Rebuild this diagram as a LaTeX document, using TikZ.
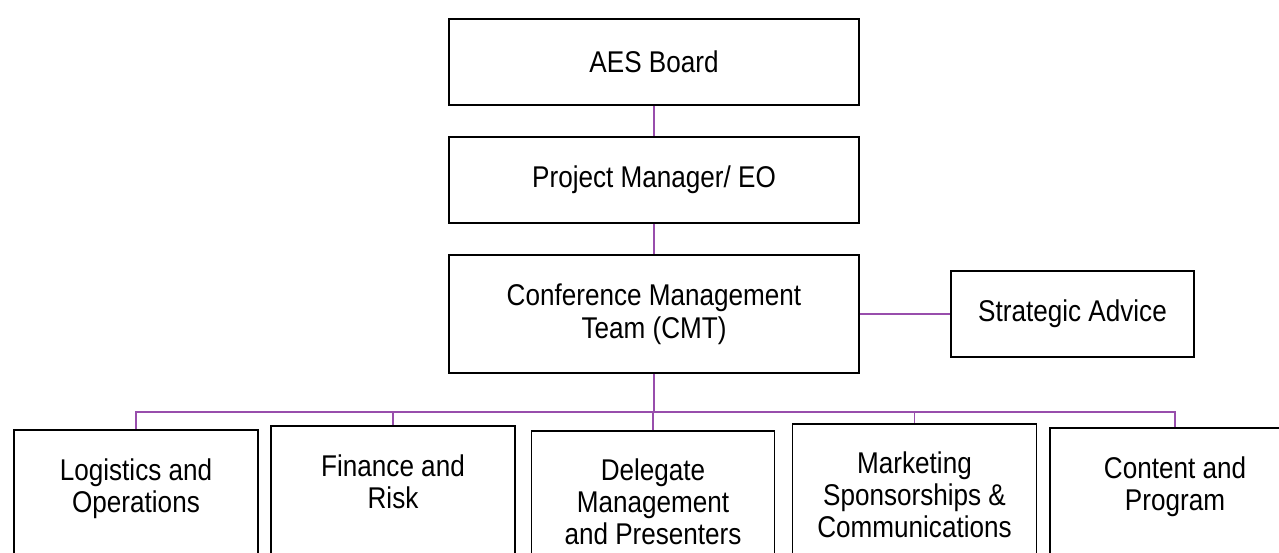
\documentclass[tikz,border=0pt]{standalone}
\usepackage{fontspec}
\setmainfont{Liberation Sans}[FakeStretch=0.87]
\usepackage{tikz}
\usetikzlibrary{positioning}

\definecolor{orgline}{RGB}{152,78,172}

\tikzset{
  unit/.style={draw, line width=1.6pt, align=center, minimum width=410pt,
    minimum height=86pt, font=\fontsize{30}{33}\selectfont},
  dept/.style={draw, line width=1.6pt, anchor=north, minimum width=244pt,
    minimum height=160pt},
  depttext/.style={inner sep=0pt, align=center, font=\fontsize{30}{32}\selectfont},
  link/.style={draw=orgline, line width=1.5pt}
}

\begin{document}
\begin{tikzpicture}[x=1pt, y=-1pt]

\useasboundingbox (0,0) rectangle (1279,552);
\clip (0,0) rectangle (1279,552);

\node [unit] (board) at (654,62) {AES Board};
\node [unit] (pm) at (654,180) {Project Manager/ EO};
\node [unit, minimum height=118pt] (cmt) at (654,314) {Conference Management\\Team (CMT)};
\node [unit, minimum width=243pt] (advice) at (1072.5,314) {Strategic Advice};

% departments
\node [dept] (log) at (136,429) {};
\node [dept] (fin) at (393,425) {};
\node [dept, minimum width=243pt] (del) at (653,430) {};
\node [dept] (mkt) at (914.5,423) {};
\node [dept, minimum width=250pt] (cont) at (1175,427) {};

\node [depttext, below=30pt of log.north] (logt) {Logistics and\\Operations};
\node [depttext, below=30pt of fin.north] (fint) {Finance and\\Risk};
\node [depttext, below=29pt of del.north] (delt) {Delegate\\Management\\and Presenters};
\node [depttext, below=29pt of mkt.north] (mktt) {Marketing\\Sponsorships \&\\Communications};
\node [depttext, below=30pt of cont.north] (contt) {Content and\\Program};

\coordinate (bus) at (654,412);

\draw [link] (board) -- (pm);
\draw [link] (pm) -- (cmt);
\draw [link] (cmt) -- (advice);
\draw [link] (cmt.south) -- (bus);
\draw [link] (log.north) |- (bus) -| (cont.north);
\foreach \d in {fin,del,mkt}
  \draw [link] (\d.north) -- (\d.north |- bus);

\end{tikzpicture}
\end{document}
